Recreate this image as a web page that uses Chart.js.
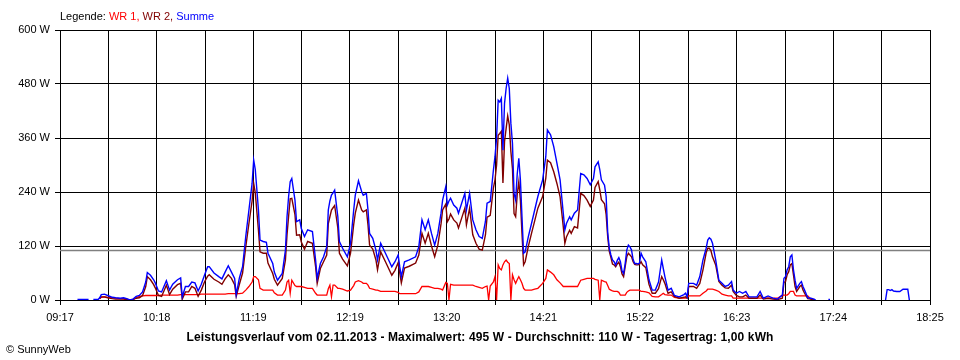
<!DOCTYPE html>
<html>
<head>
<meta charset="utf-8">
<script src="https://cdn.jsdelivr.net/npm/chart.js@4.4.0/dist/chart.umd.min.js"></script>
<style>
html,body{margin:0;padding:0;background:#fff;}
#wrap{position:relative;width:960px;height:360px;font-family:"Liberation Sans",Arial,sans-serif;color:#000;}
canvas{position:absolute;left:0;top:0;}
#legend{position:absolute;left:60px;top:10px;font-size:11px;white-space:nowrap;line-height:13px;}
#title{position:absolute;left:0;width:960px;top:330px;text-align:center;font-size:12px;font-weight:bold;white-space:nowrap;line-height:15px;letter-spacing:0.12px;}
#copy{position:absolute;left:6px;top:343px;font-size:11px;white-space:nowrap;line-height:13px;}
</style>
</head>
<body>
<div id="wrap">
<canvas id="c" width="960" height="360"></canvas>
<div id="legend">Legende: <span style="color:#ff0000">WR 1,</span> <span style="color:#800000">WR 2,</span> <span style="color:#0000ff">Summe</span></div>
<div id="title">Leistungsverlauf vom 02.11.2013 - Maximalwert: 495 W - Durchschnitt: 110 W - Tagesertrag: 1,00 kWh</div>
<div id="copy">&copy; SunnyWeb</div>
</div>
<script>
// axis range and tick labels
const axisStart = "09:17";
const axisEnd = "18:25";
const xTickLabels = ["09:17","10:18","11:19","12:19","13:20","14:21","15:22","16:23","17:24","18:25"];
const yTickValues = [0,120,240,360,480,600];
const yTickLabels = ["0 W","120 W","240 W","360 W","480 W","600 W"];
const average = 110;

// sample times
const times = [
"09:28","09:35","09:36","09:38","09:41","09:42","09:43","09:45","09:47","09:50",
"09:52","09:55","09:57","09:59","10:01","10:03","10:05","10:07","10:09","10:11",
"10:12","10:14","10:16","10:17","10:19","10:21","10:24","10:26","10:28","10:31",
"10:33","10:34","10:36","10:38","10:40","10:42","10:44","10:46","10:48","10:50",
"10:51","10:54","10:57","10:59","11:01","11:03","11:05","11:07","11:08","11:10",
"11:12","11:14","11:16","11:18","11:19","11:20","11:22","11:23","11:25","11:27",
"11:28","11:31","11:32","11:34","11:37","11:39","11:40","11:41","11:42","11:43",
"11:45","11:46","11:48","11:49","11:51","11:53","11:56","11:58","11:59","12:01",
"12:03","12:05","12:06","12:07","12:08","12:09","12:10","12:12","12:13","12:15",
"12:18","12:20","12:22","12:23","12:25","12:27","12:28","12:30","12:31","12:32",
"12:34","12:36","12:37","12:39","12:42","12:44","12:46","12:48","12:50","12:51",
"12:52","12:54","12:57","13:01","13:03","13:05","13:07","13:09","13:11","13:13",
"13:15","13:17","13:18","13:20","13:21","13:22","13:23","13:25","13:27","13:28",
"13:30","13:32","13:33","13:35","13:37","13:39","13:41","13:43","13:45","13:46",
"13:47","13:48","13:50","13:51","13:52","13:53","13:54","13:55","13:56","13:57",
"13:58","13:59","14:00","14:01","14:02","14:03","14:04","14:05","14:06","14:07",
"14:08","14:09","14:10","14:12","14:14","14:16","14:18","14:21","14:23","14:24",
"14:26","14:28","14:30","14:32","14:34","14:35","14:36","14:38","14:39","14:41",
"14:43","14:45","14:47","14:49","14:51","14:53","14:54","14:56","14:57","14:58",
"15:00","15:01","15:02","15:03","15:04","15:05","15:06","15:07","15:08","15:09",
"15:10","15:11","15:12","15:13","15:14","15:15","15:16","15:17","15:18","15:19",
"15:20","15:21","15:22","15:23","15:24","15:26","15:28","15:30","15:32","15:34",
"15:36","15:37","15:38","15:40","15:42","15:44","15:47","15:50","15:51","15:52",
"15:53","15:56","15:58","16:00","16:02","16:04","16:05","16:06","16:07","16:08",
"16:10","16:12","16:14","16:16","16:18","16:20","16:21","16:23","16:25","16:27",
"16:29","16:31","16:34","16:36","16:38","16:40","16:43","16:46","16:49","16:52",
"16:53","16:54","16:55","16:56","16:57","16:58","16:59","17:00","17:01","17:03",
"17:04","17:05","17:06","17:08","17:10","17:12","17:13","17:14","17:21","17:22",
"17:23","17:57","17:58","17:59","18:00","18:01","18:02","18:04","18:06","18:08",
"18:10","18:11","18:12"
];

// Summe (W)
const summe = [
1,1,null,1,1,5,12,13,10,6,
5,4,5,3,0,2,8,10,18,40,
61,55,45,38,20,18,43,22,35,45,
49,7,30,30,40,38,20,35,55,74,
74,60,52,47,62,76,62,48,12,49,
74,141,200,259,311,290,200,133,130,128,
104,81,62,44,59,111,185,230,263,270,
222,174,178,159,141,156,152,89,48,81,
96,118,200,220,233,238,244,185,130,115,
96,126,200,233,265,241,233,237,200,148,
137,111,89,126,104,89,74,85,100,74,
52,85,89,96,118,178,156,178,148,122,
148,193,222,252,211,220,226,211,204,193,
215,237,200,237,178,156,141,137,175,215,
217,219,289,319,360,444,440,448,333,437,
470,493,470,393,348,237,222,280,315,267,
185,104,107,141,170,200,230,267,319,378,
367,341,304,267,193,156,170,185,178,193,
200,281,278,270,256,270,296,307,290,267,
255,230,150,115,100,89,85,78,88,94,
85,65,59,81,111,122,118,111,90,81,
81,80,82,104,96,85,45,22,22,40,
89,70,52,22,26,10,7,12,15,7,
37,37,33,52,89,115,133,138,135,126,
89,44,37,30,33,41,22,15,19,15,
19,7,7,7,19,4,9,4,2,11,
48,52,67,74,96,100,67,44,26,37,
41,30,22,5,4,2,0,null,1,1,
null,0,23,23,21,23,20,19,19,24,
24,24,0
];

// WR 2 (W)
const wr2 = [
null,null,null,null,null,3,7,7,5,3,
2,2,2,1,0,1,4,5,10,30,
52,45,34,27,10,8,33,12,24,34,
37,2,18,18,30,26,8,22,40,53,
56,46,40,35,47,56,48,34,8,35,
60,118,170,220,259,238,155,107,104,104,
82,59,46,33,48,89,145,186,225,226,
190,144,145,129,113,130,126,74,37,70,
85,100,170,185,200,205,210,160,104,91,
76,104,168,193,222,200,196,200,167,122,
113,89,67,107,85,70,55,66,83,60,
38,71,75,82,100,148,126,148,120,96,
122,169,200,213,174,180,191,178,171,160,
182,204,167,204,145,126,113,111,145,184,
186,188,249,267,300,366,370,375,260,352,
381,409,389,330,292,192,185,235,263,222,
148,78,85,119,148,176,204,230,271,311,
305,285,259,229,163,126,140,155,148,163,
160,237,232,222,208,222,250,263,245,223,
214,190,140,108,95,80,78,74,80,84,
74,58,52,74,96,104,100,96,85,79,
78,78,79,85,78,72,35,15,15,25,
52,45,37,15,18,8,4,6,7,4,
30,30,26,37,67,105,115,115,110,96,
78,41,33,27,26,33,19,10,7,7,
11,4,4,4,11,2,4,2,1,4,
39,41,56,63,78,81,56,30,19,30,
33,22,15,3,2,0,null,null,null,null,
null,null,null,null,null,null,null,null,null,null,
null,null,null
];

// WR 1 (W)
const wr1 = [
null,null,null,null,null,3,6,7,6,5,
4,3,3,2,0,1,5,8,9,10,
10,10,10,10,10,11,11,11,11,11,
12,12,12,12,12,12,12,13,13,13,
13,13,13,13,13,14,14,14,14,14,
15,22,30,40,52,52,45,26,22,22,
22,22,16,11,11,22,40,44,15,44,
32,30,30,30,28,26,26,15,11,11,
11,11,25,33,7,33,33,26,26,24,
20,22,32,40,43,40,37,37,33,26,
24,22,22,19,19,19,19,19,17,14,
14,14,14,14,18,30,30,30,28,26,
26,24,22,39,37,0,35,33,33,33,
33,33,33,33,33,30,28,26,30,31,
0,31,40,52,0,78,70,67,78,85,
89,84,81,0,56,45,37,45,52,45,
37,26,22,22,22,24,26,37,48,67,
62,56,45,38,30,30,30,30,30,30,
30,44,46,48,48,48,46,44,0,44,
41,40,32,24,22,20,19,19,19,17,
11,11,11,11,17,20,22,22,22,22,
22,22,22,19,19,18,16,8,7,7,
12,15,12,11,11,6,4,4,4,5,
9,9,9,9,15,20,24,24,24,24,
22,19,13,11,9,9,4,4,4,4,
4,4,4,4,4,4,4,4,4,11,
11,11,11,14,19,19,19,11,9,9,
9,9,9,9,2,0,null,null,null,null,
null,null,null,null,null,null,null,null,null,null,
null,null,null
];

const toMin = s => { const p = s.split(":").map(Number); return p[0]*60 + p[1]; };
const xMin = toMin(axisStart), xMax = toMin(axisEnd);
const pts = arr => times.map((t, i) => ({x: toMin(t), y: arr[i]}));
const FONT = {family: "'Liberation Sans', Arial, sans-serif", size: 11};

new Chart(document.getElementById("c").getContext("2d"), {
  type: "line",
  data: {
    datasets: [
      {label: "Summe", data: pts(summe), borderColor: "#0000ff", borderWidth: 1.4, pointRadius: 0, tension: 0, order: 0},
      {label: "WR 2", data: pts(wr2), borderColor: "#800000", borderWidth: 1.4, pointRadius: 0, tension: 0, order: 1},
      {label: "WR 1", data: pts(wr1), borderColor: "#ff0000", borderWidth: 1.3, pointRadius: 0, tension: 0, order: 2},
      {label: "Durchschnitt", data: [{x: xMin, y: average}, {x: xMax, y: average}], borderColor: "#808080", borderWidth: 1.5, pointRadius: 0, order: 3}
    ]
  },
  options: {
    responsive: false,
    animation: false,
    spanGaps: false,
    layout: {padding: {top: 30, right: 30, left: 0, bottom: 0}},
    plugins: {legend: {display: false}, tooltip: {enabled: false}, title: {display: false}},
    scales: {
      x: {
        type: "linear", min: xMin, max: xMax,
        afterBuildTicks: s => { s.ticks = Array.from({length: 19}, (_, i) => ({value: xMin + i * (xMax - xMin) / 18})); },
        afterFit: s => { s.height = 60; },
        grid: {color: "#000", lineWidth: 1, tickLength: 5, tickColor: "#000"},
        border: {color: "#000", width: 1},
        ticks: {autoSkip: false, maxRotation: 0, minRotation: 0, color: "#000", font: FONT, padding: 6,
          callback: (v, i) => (i % 2 === 0 ? xTickLabels[i / 2] : "")}
      },
      y: {
        min: 0, max: 600,
        afterBuildTicks: s => { s.ticks = yTickValues.map(v => ({value: v})); },
        afterFit: s => { s.width = 60; },
        grid: {color: "#000", lineWidth: 1, tickLength: 5, tickColor: "#000"},
        border: {color: "#000", width: 1},
        ticks: {color: "#000", font: FONT, padding: 5, callback: (v, i) => yTickLabels[i]}
      }
    }
  }
});
</script>
</body>
</html>
